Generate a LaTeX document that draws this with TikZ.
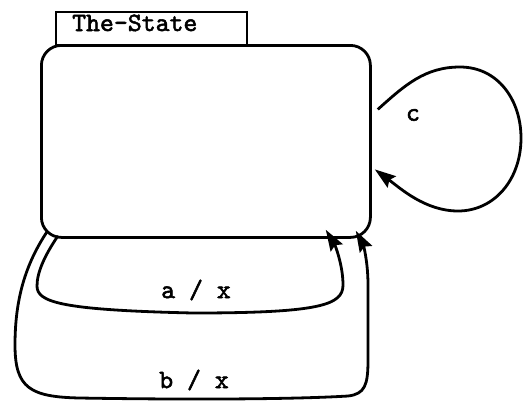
\documentclass[tikz,border=0pt]{standalone}
\usepackage{fontspec}
\newfontfamily\courfont[Extension=.otf,FakeBold=2]{lmmono10-regular}
\usetikzlibrary{arrows.meta,calc}
\begin{document}
\begin{tikzpicture}[x=1pt,y=-1pt,
  line/.style={line width=2.8pt},
  arr/.style={line, -{Stealth[length=21pt,width=14pt,inset=3pt]}},
  lbl/.style={font=\fontsize{26.5}{30}\selectfont\courfont, inner sep=0pt}]
\useasboundingbox (0,0) rectangle (524,400);
% title box
\node[draw, line width=2.2pt, minimum width=191pt, minimum height=33pt, inner sep=0pt,
      anchor=north west] (title) at (55,11) {};
\node[lbl, anchor=base west] (titletext) at (72,31) {The-State};
% state
\node[draw, line, rounded corners=20pt, minimum width=329pt, minimum height=192pt,
      inner sep=0pt, anchor=north west] (state) at (40,44) {};
% loop c
\draw[arr] ($(state.east)+(6,-32)$) .. controls (405,85) and (425,67) .. (460,67)
  .. controls (498,67) and (521,100) .. (521,138)
  .. controls (521,180) and (494,211) .. (458,211)
  .. controls (425,211) and (400,188) .. ($(state.east)+(3,28)$);
\node[lbl] (c) at (413,115) {c};
% a / x
\draw[arr] ($(state.south west)+(18,-3)$) .. controls (45,255) and (37,272) .. (37,286)
  .. controls (37,302) and (60,310) .. (193,313)
  .. controls (320,313) and (343,305) .. (343,285)
  .. controls (343,265) and (335,245) .. ($(state.south east)+(-46,-9)$);
\node[lbl] (a) at (196,290) {a / x};
% b / x
\draw[arr] ($(state.south west)+(7,-7)$) .. controls (25,265) and (15,300) .. (15,345)
  .. controls (15,388) and (30,397) .. (80,398)
  .. controls (200,400) and (300,399) .. (348,396)
  .. controls (365,394) and (368,385) .. (368,360)
  -- (368,285) .. controls (368,258) and (362,242) .. ($(state.south east)+(-16,-8)$);
\node[lbl] (b) at (194,380) {b / x};
\end{tikzpicture}
\end{document}
